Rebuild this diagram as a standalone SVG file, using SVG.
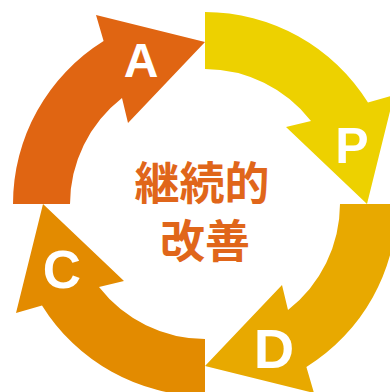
<svg xmlns="http://www.w3.org/2000/svg" width="390" height="392" viewBox="0 0 390 392">
<defs>
<style>
.lbl{font-family:"Liberation Sans",Arial,sans-serif;font-weight:700;fill:#ffffff;text-anchor:middle}
.ctr{font-family:"Noto Sans CJK JP","Noto Sans CJK SC",sans-serif;font-weight:700;fill:#E0661A;text-anchor:middle;font-size:45px}
</style>
<path id="arr" d="M 13 204 A 192 192 0 0 1 103.6 41 L 96 15 L 205 42 L 128 123 L 122 98 A 135 135 0 0 0 70 204 Z"/>
</defs>
<rect width="390" height="392" fill="#ffffff"/>
<g id="node-A">
<use href="#arr" fill="#E06512"/>
<text class="lbl" x="141" y="77" font-size="48">A</text>
</g>
<g id="node-P">
<use href="#arr" fill="#EDD100" transform="rotate(90 205 204)"/>
<text class="lbl" x="352" y="163" font-size="50">P</text>
</g>
<g id="node-D">
<use href="#arr" fill="#E8A900" transform="rotate(180 205 204)"/>
<text class="lbl" x="274" y="368" font-size="56">D</text>
</g>
<g id="node-C">
<use href="#arr" fill="#E38B00" transform="rotate(270 205 204)"/>
<text class="lbl" x="62" y="288" font-size="53">C</text>
</g>
<g id="center">
<text class="ctr"><tspan x="202" y="200">継続的</tspan><tspan x="205" y="258">改善</tspan></text>
</g>
<g id="connectors"/>
</svg>
